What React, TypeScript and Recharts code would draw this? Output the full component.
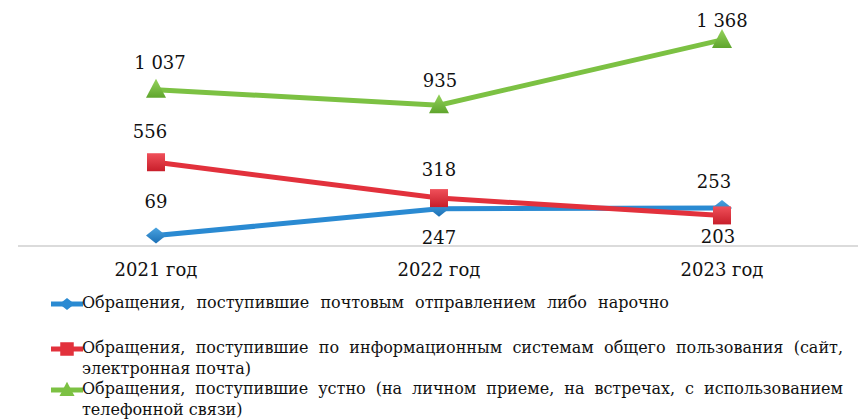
import React from "react";
import { LineChart, Line, XAxis, YAxis, Legend, LabelList } from "recharts";

const categories = ["2021 год", "2022 год", "2023 год"];
const postValues = [69, 247, 253];
const onlineValues = [556, 318, 203];
const oralValues = [1037, 935, 1368];
const seriesNames = [
  "Обращения, поступившие почтовым отправлением либо нарочно",
  "Обращения, поступившие по информационным системам общего пользования (сайт,\nэлектронная почта)",
  "Обращения, поступившие устно (на личном приеме, на встречах, с использованием\nтелефонной связи)",
];

const data = categories.map((c, i) => ({
  cat: c,
  post: postValues[i],
  online: onlineValues[i],
  oral: oralValues[i],
}));

const FONT = "DejaVu Serif";
const BLUE = "#2a8ad2";
const RED = "#e2313c";
const GREEN = "#7cc143";

const labelDy: Record<string, number[]> = {
  post: [-28, 35, -20],
  online: [-24, -22, 28],
  oral: [-21, -18, -13],
};
const labelDx: Record<string, number[]> = {
  post: [0, 0, -8],
  online: [-6, 0, -4],
  oral: [4, 1, 0],
};

const fmt = (v: number) => {
  const s = String(v);
  return s.length > 3 ? s.slice(0, s.length - 3) + " " + s.slice(-3) : s;
};

const makeLabel = (key: string) => (props: any) => {
  const { x, y, value, index } = props;
  return (
    <text
      x={x + labelDx[key][index]}
      y={y + labelDy[key][index]}
      textAnchor="middle"
      fontFamily={FONT}
      fontSize={18}
      fill="#111"
    >
      {fmt(value)}
    </text>
  );
};

const Diamond = ({ cx, cy, fill, s = 1 }: any) => (
  <path
    d={`M${cx},${cy - 8 * s} L${cx + 10 * s},${cy} L${cx},${cy + 8 * s} L${cx - 10 * s},${cy} Z`}
    fill={fill}
  />
);
const Square = ({ cx, cy, fill, s = 1 }: any) => (
  <rect x={cx - 9 * s} y={cy - 9 * s} width={18 * s} height={18 * s} fill={fill} />
);
const Triangle = ({ cx, cy, fill, s = 1 }: any) => (
  <path
    d={`M${cx},${cy - 11 * s} L${cx + 10 * s},${cy + 8 * s} L${cx - 10 * s},${cy + 8 * s} Z`}
    fill={fill}
  />
);

const markers = [
  { key: "post", color: BLUE, Shape: Diamond, grad: "url(#gBlue)" },
  { key: "online", color: RED, Shape: Square, grad: "url(#gRed)" },
  { key: "oral", color: GREEN, Shape: Triangle, grad: "url(#gGreen)" },
];

const legendTops = [293, 338, 379];
const legendWidths = [[587], [761, 169], [761, 160]];

const LegendContent = () => (
  <div style={{ position: "relative", width: 859, height: 130, fontFamily: FONT }}>
    {seriesNames.map((name, i) => {
      const m = markers[i];
      const lines = name.split("\n");
      return (
        <div key={i} style={{ position: "absolute", left: 0, top: legendTops[i] - 290 }}>
          <svg width={32} height={20} style={{ position: "absolute", left: 51, top: 1 }}>
            <line x1={0} y1={10} x2={32} y2={10} stroke={m.color} strokeWidth={5} />
            <m.Shape cx={16} cy={10} fill={m.color} s={0.75} />
          </svg>
          {lines.map((ln, j) => (
            <div
              key={j}
              style={{
                position: "absolute",
                left: 82,
                top: j * 20.5,
                width: legendWidths[i][j],
                fontSize: 16,
                lineHeight: "20.5px",
                color: "#111",
                whiteSpace: "nowrap",
                textAlign: "justify",
                textAlignLast: "justify",
              }}
            >
              {ln}
            </div>
          ))}
        </div>
      );
    })}
  </div>
);

export default function App() {
  return (
    <div style={{ position: "absolute", left: 0, top: 0, width: 859, height: 420, background: "#fff" }}>
      <LineChart
        width={859}
        height={420}
        data={data}
        margin={{ top: 20, right: 1, left: 18, bottom: 144 }}
      >
        <defs>
          <linearGradient id="gBlue" x1="0" y1="0" x2="0" y2="1">
            <stop offset="0" stopColor="#4aa3e0" />
            <stop offset="1" stopColor="#1a6fb5" />
          </linearGradient>
          <linearGradient id="gRed" x1="0" y1="0" x2="0" y2="1">
            <stop offset="0" stopColor="#f0505a" />
            <stop offset="1" stopColor="#c81e2a" />
          </linearGradient>
          <linearGradient id="gGreen" x1="0" y1="0" x2="0" y2="1">
            <stop offset="0" stopColor="#95d35c" />
            <stop offset="1" stopColor="#5fa52d" />
          </linearGradient>
        </defs>
        <XAxis
          dataKey="cat"
          height={30}
          padding={{ left: 138, right: 136 }}
          axisLine={{ stroke: "#b8b8b8", strokeWidth: 1.2 }}
          tickLine={false}
          tickMargin={11}
          tick={{ fontSize: 18, fill: "#111", fontFamily: FONT }}
        />
        <YAxis hide domain={[0, 1500]} />
        <Legend
          layout="horizontal"
          verticalAlign="middle"
          align="center"
          wrapperStyle={{ position: "absolute", left: 0, top: 290, width: 859 }}
          content={() => <LegendContent />}
        />
        {markers.map((m, i) => (
          <Line
            key={m.key}
            dataKey={m.key}
            name={seriesNames[i]}
            stroke={m.color}
            strokeWidth={5}
            isAnimationActive={false}
            dot={(p: any) => <m.Shape key={p.index} cx={p.cx} cy={p.cy} fill={m.grad} />}
            activeDot={false}
          >
            <LabelList dataKey={m.key} content={makeLabel(m.key)} />
          </Line>
        ))}
      </LineChart>
    </div>
  );
}
